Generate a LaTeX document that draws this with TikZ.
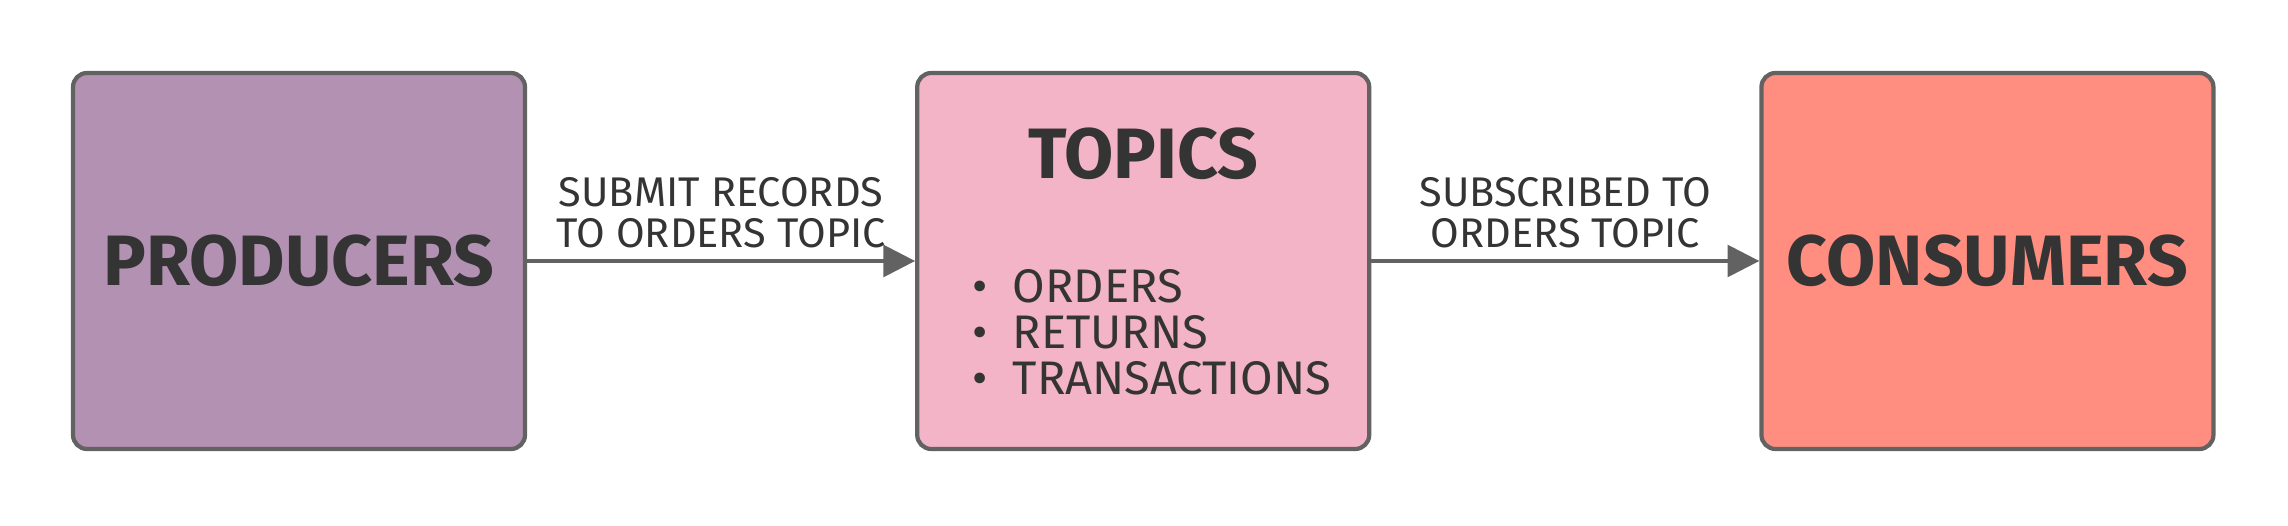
\documentclass[tikz,border=0pt]{standalone}
\usepackage{fontspec}
\setmainfont{Fira Sans}
\usetikzlibrary{arrows.meta,positioning}
\definecolor{kafkaedge}{RGB}{98,98,98}
\definecolor{kafkaink}{RGB}{52,52,52}
\definecolor{kafkaprod}{RGB}{179,145,179}
\definecolor{kafkatopic}{RGB}{244,180,199}
\definecolor{kafkacons}{RGB}{255,142,128}

\begin{document}
\begin{tikzpicture}[
  stage/.style={rectangle,rounded corners=4pt,draw=kafkaedge,line width=1.2pt,
    minimum width=4.52cm,minimum height=3.76cm,align=center,text=kafkaink,
    font=\fontsize{20.3}{22}\selectfont\bfseries},
  flow/.style={-{Triangle[length=9pt,width=9pt]},draw=kafkaedge,line width=1pt},
  flowlabel/.style={align=center,inner sep=0pt,text=kafkaink,
    font=\fontsize{11.8}{11.8}\selectfont},
  topiclist/.style={align=left,inner sep=0pt,text=kafkaink,
    font=\fontsize{13.4}{13.1}\selectfont}
]
\useasboundingbox (0,0) rectangle (22.88,5.25);
\node[stage,fill=kafkaprod] (producers) at (2.99,2.64) {PRODUCERS};
\node[stage,fill=kafkatopic,right=3.88cm of producers] (topics) {};
\node[stage,fill=kafkacons,right=3.88cm of topics] (consumers) {CONSUMERS};
\node[text=kafkaink,font=\fontsize{20.3}{22}\selectfont\bfseries] (topicstitle)
  at ([yshift=-0.83cm]topics.north) {TOPICS};
\node[topiclist,anchor=west] (topicitems) at ([xshift=0.57cm,yshift=-0.71cm]topics.west)
  {\textbullet\hspace{7pt}ORDERS\\ \textbullet\hspace{7pt}RETURNS\\ \textbullet\hspace{7pt}TRANSACTIONS};
\draw[flow] (producers) -- node[flowlabel,above=0.11cm] (submitlabel)
  {SUBMIT RECORDS\\TO ORDERS TOPIC} (topics);
\draw[flow] (topics) -- node[flowlabel,above=0.11cm] (subscribelabel)
  {SUBSCRIBED TO\\ORDERS TOPIC} (consumers);
\end{tikzpicture}
\end{document}
